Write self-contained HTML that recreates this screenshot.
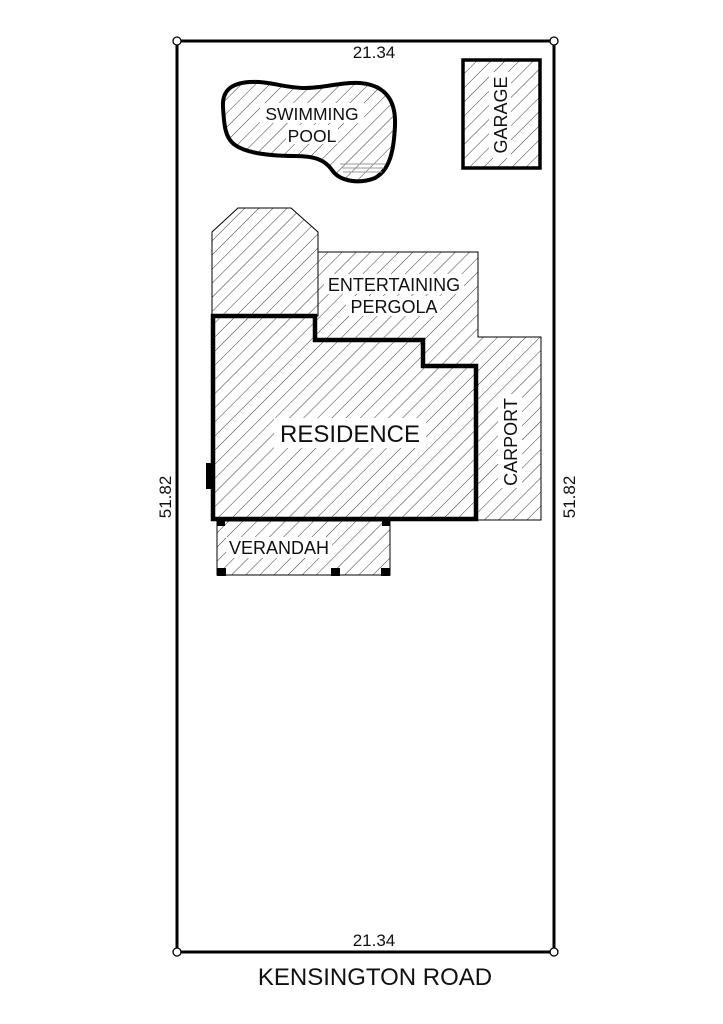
<!DOCTYPE html>
<html><head><style>
html,body{margin:0;padding:0;background:#fff;}
svg{display:block;}
text{font-family:"Liberation Sans",sans-serif;fill:#111;}
</style></head><body>
<svg width="723" height="1024" viewBox="0 0 723 1024" xmlns="http://www.w3.org/2000/svg">
<defs>
<pattern id="h" patternUnits="userSpaceOnUse" width="10" height="10" patternTransform="rotate(45)">
<line x1="0" y1="0" x2="0" y2="10" stroke="#222" stroke-width="0.9"/>
</pattern>
</defs>
<rect x="177" y="41" width="377" height="911" fill="none" stroke="#000" stroke-width="3"/>
<g fill="#fff" stroke="#000" stroke-width="1.3">
<circle cx="177" cy="41" r="4"/><circle cx="554" cy="41" r="4"/>
<circle cx="177" cy="952" r="4"/><circle cx="554" cy="952" r="4"/>
</g>
<path d="M223,107 C222,90 232,83 250,82 C270,81 285,88 305,88 C325,88 340,82 360,83 C385,85 396,100 395,125 C394,150 390,170 375,178 C360,184 340,182 332,170 C325,160 315,156 295,156 C265,156 245,152 235,145 C225,138 224,125 223,107 Z" fill="url(#h)" stroke="#000" stroke-width="4"/>
<g stroke="#999" stroke-width="1"><line x1="340" y1="164" x2="385" y2="164"/><line x1="341" y1="168" x2="384" y2="168"/><line x1="343" y1="172" x2="382" y2="172"/></g>
<rect x="260" y="103" width="104" height="20" fill="#fff"/>
<rect x="286" y="125" width="52" height="19" fill="#fff"/>
<text x="312" y="120" font-size="17.5" text-anchor="middle">SWIMMING</text>
<text x="312" y="142" font-size="17.5" text-anchor="middle">POOL</text>
<rect x="463" y="60" width="77" height="108" fill="url(#h)" stroke="#000" stroke-width="3.5"/>
<rect x="489" y="72" width="22" height="86" fill="#fff"/>
<text transform="translate(507,115) rotate(-90)" font-size="18" text-anchor="middle">GARAGE</text>
<path d="M212,316 L212,232 L238,208 L291,208 L318,232 L318,316 Z" fill="url(#h)" stroke="#000" stroke-width="1"/>
<path d="M318,252 L478,252 L478,337 L541,337 L541,520 L476,520 L476,366 L423,366 L423,340 L315,340 L315,316 L318,316 Z" fill="url(#h)" stroke="#000" stroke-width="1"/>
<rect x="324" y="274" width="140" height="20" fill="#fff"/>
<rect x="346" y="296" width="94" height="20" fill="#fff"/>
<text x="394" y="291" font-size="18" text-anchor="middle">ENTERTAINING</text>
<text x="394" y="313" font-size="18" text-anchor="middle">PERGOLA</text>
<rect x="498" y="394" width="24" height="94" fill="#fff"/>
<text transform="translate(517,442) rotate(-90)" font-size="18" text-anchor="middle">CARPORT</text>
<path d="M213,316 L315,316 L315,340 L423,340 L423,366 L476,366 L476,519 L213,519 Z" fill="url(#h)" stroke="#000" stroke-width="4.5"/>
<rect x="206" y="463" width="7" height="26" fill="#000"/>
<rect x="274" y="418" width="152" height="30" fill="#fff"/>
<text x="350" y="442" font-size="24" text-anchor="middle">RESIDENCE</text>
<rect x="217" y="521" width="173" height="54" fill="url(#h)" stroke="#000" stroke-width="1"/>
<g fill="#000">
<rect x="217" y="519" width="8" height="7"/><rect x="382" y="519" width="8" height="7"/>
<rect x="217" y="568" width="9" height="8"/><rect x="331" y="568" width="9" height="8"/><rect x="381" y="568" width="9" height="8"/>
</g>
<rect x="226" y="537" width="106" height="21" fill="#fff"/>
<text x="279" y="554" font-size="18" text-anchor="middle">VERANDAH</text>
<text x="374" y="58" font-size="17" text-anchor="middle">21.34</text>
<text x="374" y="946" font-size="17" text-anchor="middle">21.34</text>
<text transform="translate(171,497) rotate(-90)" font-size="17" text-anchor="middle">51.82</text>
<text transform="translate(575,497) rotate(-90)" font-size="17" text-anchor="middle">51.82</text>
<text x="375" y="985" font-size="24" text-anchor="middle">KENSINGTON ROAD</text>
</svg>
</body></html>
